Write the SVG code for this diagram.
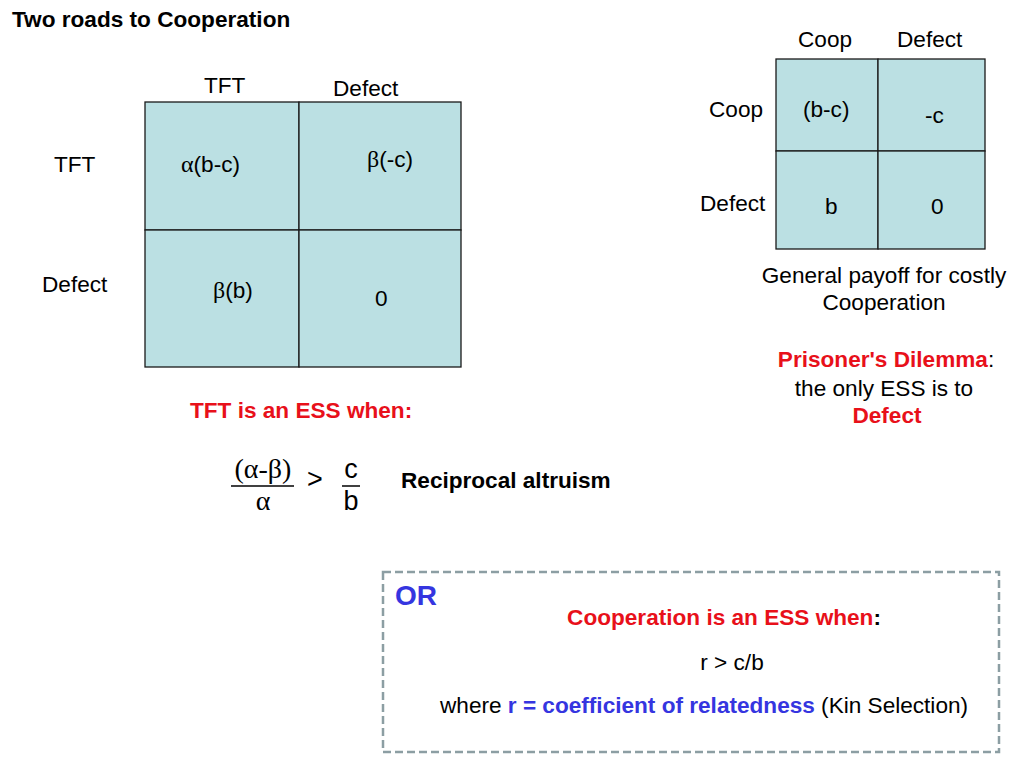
<svg xmlns="http://www.w3.org/2000/svg" width="1024" height="768" viewBox="0 0 1024 768">
<style>
text{font-family:"Liberation Sans",Arial,sans-serif;font-size:22.6px;fill:#000}
.b{font-weight:bold}
.red{fill:#e8101a}
.blue{fill:#3535e0}
.g{font-family:"Liberation Serif","Times New Roman",serif;font-size:24px}
.big{font-size:27px}
.gb{font-size:28px}
.or{font-size:28px}
.cell{fill:#bbe0e3;stroke:#1a1a1a;stroke-width:1.3}
.c{text-anchor:middle}
</style>
<rect width="1024" height="768" fill="#fff"/>
<text id="title" class="b" x="12" y="27">Two roads to Cooperation</text>

<g id="left-matrix">
<rect class="cell" x="145" y="102" width="154" height="128"/>
<rect class="cell" x="299" y="102" width="162" height="128"/>
<rect class="cell" x="145" y="230" width="154" height="137"/>
<rect class="cell" x="299" y="230" width="162" height="137"/>
<text x="204" y="93">TFT</text>
<text x="333" y="96">Defect</text>
<text x="54" y="172">TFT</text>
<text x="42" y="292">Defect</text>
<text x="181" y="172"><tspan class="g">α</tspan>(b-c)</text>
<text x="367" y="167"><tspan class="g">β</tspan>(-c)</text>
<text x="213" y="298"><tspan class="g">β</tspan>(b)</text>
<text x="375" y="306">0</text>
</g>

<g id="tft-condition">
<text class="b red" x="190" y="418">TFT is an ESS when:</text>
<text class="g gb c" x="263" y="478">(α-β)</text>
<line x1="231" y1="486" x2="294" y2="486" stroke="#000" stroke-width="1.5"/>
<text class="g gb c" x="263" y="510">α</text>
<text class="big" x="307" y="488">&gt;</text>
<text class="big c" x="351" y="478">c</text>
<line x1="342" y1="486" x2="360" y2="486" stroke="#000" stroke-width="1.5"/>
<text class="big c" x="351" y="510">b</text>
<text class="b" x="401" y="488">Reciprocal altruism</text>
</g>

<g id="right-matrix">
<rect class="cell" x="776" y="59" width="102" height="92"/>
<rect class="cell" x="878" y="59" width="107" height="92"/>
<rect class="cell" x="776" y="151" width="102" height="98"/>
<rect class="cell" x="878" y="151" width="107" height="98"/>
<text x="798" y="47">Coop</text>
<text x="897" y="47">Defect</text>
<text x="709" y="117">Coop</text>
<text x="700" y="211">Defect</text>
<text x="803" y="117">(b-c)</text>
<text x="925" y="123">-c</text>
<text x="825" y="214">b</text>
<text x="931" y="214">0</text>
<text class="c" x="884" y="283">General payoff for costly</text>
<text class="c" x="884" y="310">Cooperation</text>
</g>

<g id="pd-note">
<text class="c" x="886" y="367"><tspan class="b red">Prisoner's Dilemma</tspan>:</text>
<text class="c" x="884" y="396">the only ESS is to</text>
<text class="c b red" x="887" y="423">Defect</text>
</g>

<g id="kin-box">
<rect x="383" y="572" width="616" height="180" fill="none" stroke="#8c9ea3" stroke-width="2.5" stroke-dasharray="8,4"/>
<text class="b blue or" x="395" y="605">OR</text>
<text class="c" x="724" y="625"><tspan class="b red">Cooperation is an ESS when</tspan><tspan class="b">:</tspan></text>
<text class="c" x="732" y="670">r &gt; c/b</text>
<text x="440" y="713">where <tspan class="b blue">r = coefficient of relatedness</tspan> (Kin Selection)</text>
</g>
</svg>
